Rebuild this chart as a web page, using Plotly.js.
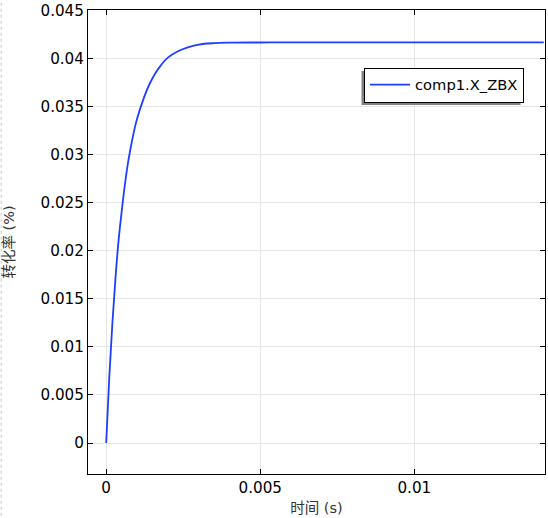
<!DOCTYPE html>
<html>
<head>
<meta charset="utf-8">
<script src="https://cdn.plot.ly/plotly-3.0.1.min.js"></script>
<style>html,body{margin:0;padding:0;background:#fff;}#chart{width:548px;height:518px;}</style>
</head>
<body>
<div id="chart"></div>
<script>
const seriesName = "comp1.X_ZBX";
const timeS = [0, 0.0001, 0.0002, 0.0003, 0.0004, 0.0005, 0.0006, 0.0007, 0.0008, 0.0009, 0.001, 0.0012, 0.0014, 0.0016, 0.0018, 0.002, 0.0023, 0.0026, 0.003, 0.0035, 0.004, 0.005, 0.006, 0.008, 0.01, 0.012, 0.0142];
const conversion = [0, 0.0068, 0.0124, 0.0171, 0.0210, 0.0240, 0.0267, 0.0290, 0.0308, 0.0324, 0.0337, 0.0357, 0.0373, 0.0385, 0.0394, 0.0401, 0.0407, 0.0411, 0.04145, 0.04160, 0.04165, 0.04167, 0.04168, 0.04168, 0.04168, 0.04168, 0.04168];
const xTickVals = [0, 0.005, 0.01];
const xTickText = ["0", "0.005", "0.01"];
const yTickVals = [0, 0.005, 0.01, 0.015, 0.02, 0.025, 0.03, 0.035, 0.04, 0.045];
const yTickText = ["0", "0.005", "0.01", "0.015", "0.02", "0.025", "0.03", "0.035", "0.04", "0.045"];
const xTitle = "时间 (s)";
const yTitle = "转化率 (%)";

const fontFam = "DejaVu Sans, Noto Sans CJK SC, sans-serif";

const trace = {
  x: timeS, y: conversion, type: 'scatter', mode: 'lines', name: seriesName,
  line: {color: '#1f3fff', width: 1.8, shape: 'spline', smoothing: 1},
  showlegend: true
};

const axisCommon = {
  showline: true, linecolor: '#000', linewidth: 1, mirror: 'ticks',
  ticks: 'inside', ticklen: 5, tickcolor: '#000', tickwidth: 1,
  showgrid: true, gridcolor: '#e6e6e6', gridwidth: 1, zeroline: false,
  tickfont: {family: fontFam, size: 15.2, color: '#000'}, tickmode: 'array'
};

const layout = {
  width: 548, height: 518,
  margin: {l: 88, r: 3, t: 10, b: 44},
  paper_bgcolor: '#fff', plot_bgcolor: '#fff',
  font: {family: fontFam},
  xaxis: Object.assign({}, axisCommon, {
    range: [-0.00059, 0.01424], tickvals: xTickVals, ticktext: xTickText,
    title: {text: xTitle, font: {family: fontFam, size: 14.5, color: '#333'}, standoff: 6}
  }),
  yaxis: Object.assign({}, axisCommon, {
    range: [-0.00322, 0.04505], tickvals: yTickVals, ticktext: yTickText,
    title: {text: yTitle, font: {family: fontFam, size: 14.5, color: '#333'}, standoff: 22}
  }),
  showlegend: true,
  legend: {
    x: 0.604, y: 0.876, xanchor: 'left', yanchor: 'top', itemwidth: 40,
    bgcolor: '#fff', bordercolor: '#000', borderwidth: 1,
    font: {family: fontFam, size: 14.7, color: '#000'}
  },
  shapes: [
    {type: 'line', xref: 'paper', yref: 'paper', x0: -0.19, x1: -0.19, y0: -0.09, y1: 1.02,
     line: {color: '#c8c8c8', width: 1, dash: 'dot'}}
  ]
};

Plotly.newPlot('chart', [trace], layout, {displayModeBar: false, staticPlot: true}).then(function (gd) {
  const bg = gd.querySelector('.legend .bg');
  if (!bg) return;
  const r = bg.getBoundingClientRect();
  const c = gd.getBoundingClientRect();
  const fs = gd._fullLayout._size;
  const toPx = (px) => (px - c.left - fs.l) / fs.w;
  const toPy = (py) => 1 - (py - c.top - fs.t) / fs.h;
  const shadow = {type: 'rect', xref: 'paper', yref: 'paper',
    x0: toPx(r.left - 3), x1: toPx(r.right - 3), y0: toPy(r.bottom + 3), y1: toPy(r.top + 3),
    fillcolor: '#808080', line: {width: 0}, layer: 'above'};
  Plotly.relayout(gd, {shapes: layout.shapes.concat([shadow])});
});
</script>
</body>
</html>
